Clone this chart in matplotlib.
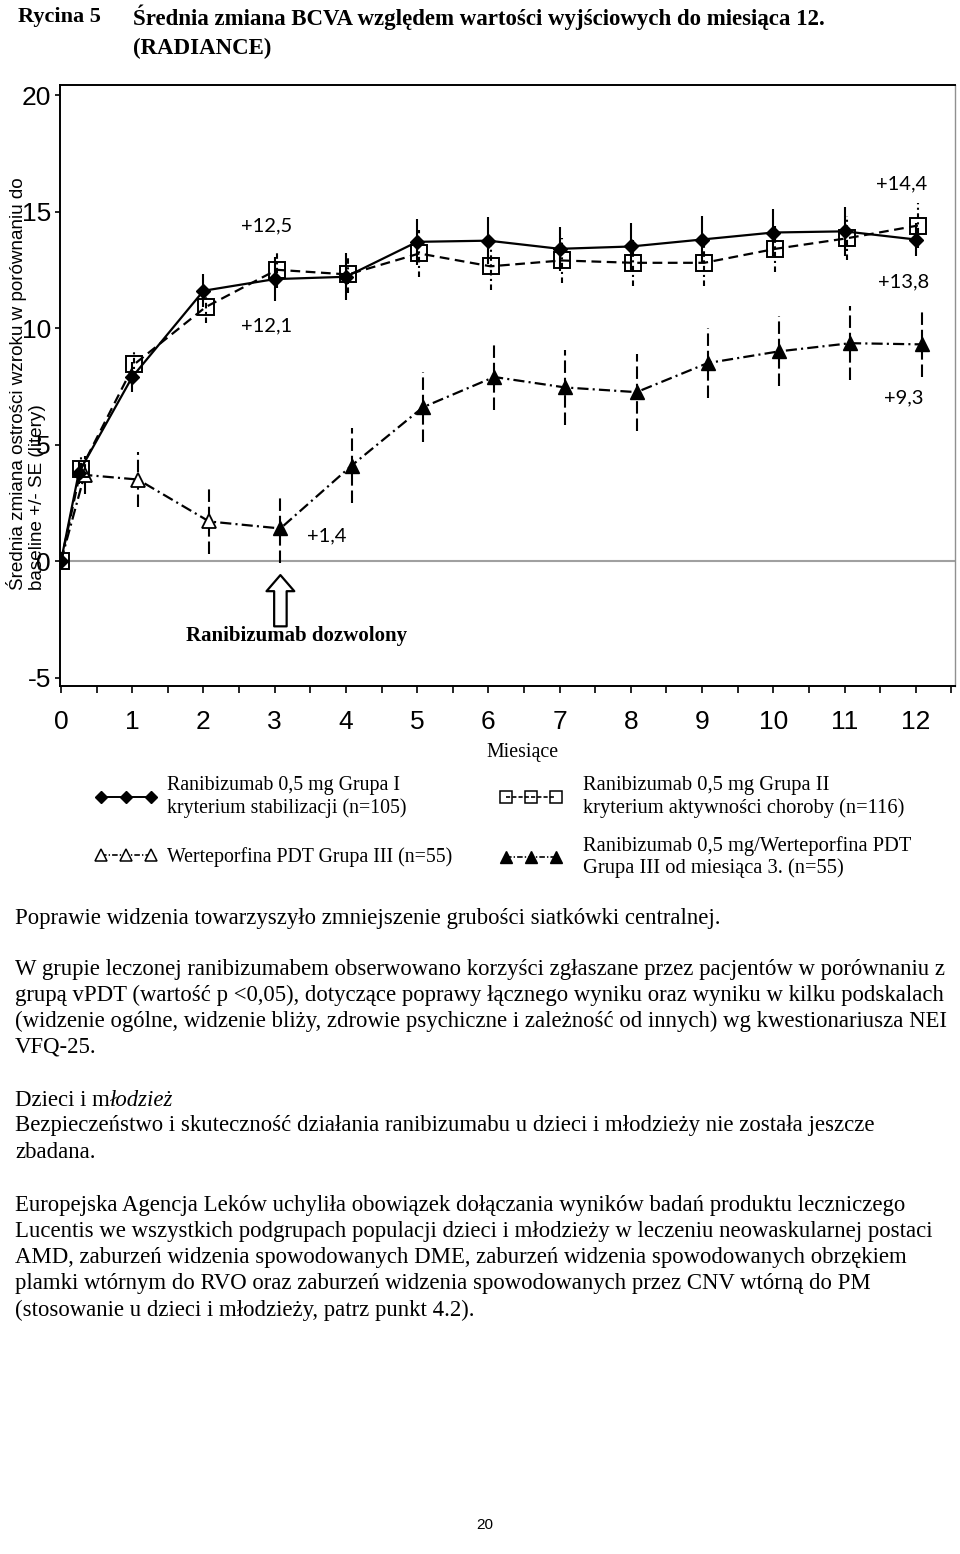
import numpy as np
import matplotlib
matplotlib.use('Agg')
import matplotlib.pyplot as plt
from matplotlib.lines import Line2D
from matplotlib.legend import Legend
from matplotlib import font_manager

months = np.array([0, 0.25, 1, 2, 3, 4, 5, 6, 7, 8, 9, 10, 11, 12])
grp1 = [0, 3.8, 7.9, 11.6, 12.1, 12.2, 13.7, 13.75, 13.4, 13.5, 13.8, 14.1, 14.15, 13.8]
grp1_se = [0, 0.5, 0.65, 0.7, 0.95, 1.0, 1.0, 1.0, 0.95, 1.0, 1.0, 1.0, 1.05, 0.7]
grp2 = [0, 3.95, 8.45, 10.9, 12.5, 12.3, 13.2, 12.65, 12.9, 12.8, 12.8, 13.4, 13.85, 14.4]
grp2_se = [0, 0.6, 0.6, 0.7, 0.8, 0.8, 1.0, 1.0, 0.95, 1.0, 1.0, 1.0, 0.95, 0.95]
grp3 = [0, 3.7, 3.5, 1.7, 1.4, 4.1, 6.6, 7.9, 7.45, 7.25, 8.5, 9.0, 9.35, 9.3]
grp3_se = [0, 0.8, 1.2, 1.4, 1.5, 1.6, 1.5, 1.4, 1.6, 1.65, 1.5, 1.5, 1.6, 1.4]

x_ticks = list(range(13))
y_ticks = [-5, 0, 5, 10, 15, 20]

# etykiety wartosci: (tekst, miesiac, y)
value_labels = [('+12,5', 2.89, 14.4), ('+12,1', 2.89, 10.1), ('+1,4', 3.73, 1.1),
                ('+14,4', 11.8, 16.2), ('+13,8', 11.83, 12.0), ('+9,3', 11.83, 7.0)]

legend_labels = ['Ranibizumab 0,5 mg Grupa I\nkryterium stabilizacji (n=105)',
                 'Ranibizumab 0,5 mg Grupa II\nkryterium aktywności choroby (n=116)',
                 'Werteporfina PDT Grupa III (n=55)',
                 'Ranibizumab 0,5 mg/Werteporfina PDT\nGrupa III od miesiąca 3. (n=55)']

body_lines = [
    (918, 'Poprawie widzenia towarzyszyło zmniejszenie grubości siatkówki centralnej.'),
    (969, 'W grupie leczonej ranibizumabem obserwowano korzyści zgłaszane przez pacjentów w porównaniu z'),
    (995, 'grupą vPDT (wartość p <0,05), dotyczące poprawy łącznego wyniku oraz wyniku w kilku podskalach'),
    (1021, '(widzenie ogólne, widzenie bliży, zdrowie psychiczne i zależność od innych) wg kwestionariusza NEI'),
    (1047, 'VFQ-25.'),
    (1126, 'Bezpieczeństwo i skuteczność działania ranibizumabu u dzieci i młodzieży nie została jeszcze'),
    (1152, 'zbadana.'),
    (1206, 'Europejska Agencja Leków uchyliła obowiązek dołączania wyników badań produktu leczniczego'),
    (1232, 'Lucentis we wszystkich podgrupach populacji dzieci i młodzieży w leczeniu neowaskularnej postaci'),
    (1258, 'AMD, zaburzeń widzenia spowodowanych DME, zaburzeń widzenia spowodowanych obrzękiem'),
    (1284, 'plamki wtórnym do RVO oraz zaburzeń widzenia spowodowanych przez CNV wtórną do PM'),
    (1310, '(stosowanie u dzieci i młodzieży, patrz punkt 4.2).'),
]

plt.rcParams['lines.scale_dashes'] = False
plt.rcParams['axes.unicode_minus'] = False
installed = {f.name for f in font_manager.fontManager.ttflist}
narrow = 'Liberation Sans Narrow' if 'Liberation Sans Narrow' in installed else 'Liberation Sans'
serif = 'Liberation Serif'

W, H = 960, 1554
fig = plt.figure(figsize=(W / 100, H / 100), dpi=100)


def fy(py):
    return 1 - py / H


ax = fig.add_axes([60 / W, fy(686), 895 / W, (686 - 85) / H])
ax.set_xlim(-0.014, 12.55)
ax.set_ylim(-5.36, 20.43)

off2 = np.where(months > 0, 0.03, 0)
off3 = np.where(months > 0, 0.08, 0)
x1, x2, x3 = months, months + off2, months + off3

ax.axhline(0, color='#a0a0a0', lw=1.5, zorder=1)


def err(x, y, se, ls):
    eb = ax.errorbar(x, y, yerr=se, fmt='none', ecolor='black', elinewidth=1.5, capsize=0, zorder=2)
    eb[2][0].set_linestyle(ls)


err(x3, grp3, grp3_se, (0, (9, 3.5)))
err(x2, grp2, grp2_se, (0, (4, 2.5, 1.5, 2.5)))
err(x1, grp1, grp1_se, '-')

# Grupa III
ax.plot(x3, grp3, color='k', lw=1.6, ls=(0, (8, 3, 1.5, 3)), zorder=3)
ax.plot(x3[1:4], grp3[1:4], ls='none', marker='^', ms=10, mfc='white', mec='k', mew=1.3, zorder=4)
ax.plot(x3[4:], grp3[4:], ls='none', marker='^', ms=10, mfc='k', mec='k', zorder=4)
# Grupa II
ax.plot(x2, grp2, color='k', lw=1.6, ls=(0, (7, 4)), marker='s', ms=11, mfc='none', mec='k', mew=1.4, zorder=5)
# Grupa I
ax.plot(x1, grp1, color='k', lw=1.6, ls='-', marker='D', ms=7.5, mfc='k', mec='k', zorder=6)

for txt, xx, yy in value_labels:
    ax.text(xx, yy, txt, fontsize=14.5, family='Lato', ha='center', va='center')

# strzalka "Ranibizumab dozwolony"
ax.annotate('', xy=(3.08, -0.6), xytext=(3.08, -2.8),
            arrowprops=dict(arrowstyle='simple,head_width=1.0,head_length=0.58,tail_width=0.45',
                            mutation_scale=20, fc='white', ec='black', lw=1.6, shrinkA=0, shrinkB=0))
ax.text(3.3, -3.22, 'Ranibizumab dozwolony', family=serif, weight='bold', fontsize=15,
        ha='center', va='center')

for s in ['left', 'bottom', 'top']:
    ax.spines[s].set_linewidth(1.4)
ax.spines['right'].set_color('#909090')
ax.spines['right'].set_linewidth(1.0)

ax.set_xticks(x_ticks)
ax.set_xticks(np.arange(0.5, 13, 1), minor=True)
ax.set_yticks(y_ticks)
ax.tick_params(axis='x', which='both', direction='out', length=5, width=1.2, pad=12,
               labelsize=19)
ax.tick_params(axis='y', direction='out', length=3.5, width=1.2, pad=3, labelsize=19)
for lab in ax.get_xticklabels() + ax.get_yticklabels():
    lab.set_family(narrow)

fig.text(26 / W, fy(590), 'Średnia zmiana ostrości wzroku w porównaniu do\nbaseline +/- SE (litery)',
         rotation=90, ha='center', va='bottom', multialignment='left', fontsize=13.6,
         family='Liberation Sans', linespacing=1.1)

fig.text(522 / W, fy(752), 'Miesiące', family=serif, fontsize=14.3, ha='center', va='center')

# legenda
h1 = Line2D([], [], color='k', lw=1.4, marker='D', ms=6, mfc='k')
h2 = Line2D([], [], color='k', lw=1.2, ls=(0, (3, 1.5)), marker='s', ms=8, mfc='none', mew=1.1)
h3 = Line2D([], [], color='k', lw=1.2, ls=(0, (4, 1.5, 1, 1.5)), marker='^', ms=8, mfc='white', mew=1.1)
h4 = Line2D([], [], color='k', lw=1.2, ls=(0, (4, 1.5, 1, 1.5)), marker='^', ms=8, mfc='k')
legend_pos = [(h1, 95, 797, 0.55, 14.3, 3.1), (h2, 500, 797, 1.05, 14.8, 3.0),
              (h3, 95, 857, 0.55, 14.3, 3.1), (h4, 500, 857, 1.05, 14.8, 3.0)]
for (h, px, py, pad, size, hl), lab in zip(legend_pos, [legend_labels[0], legend_labels[1],
                                                       legend_labels[2], legend_labels[3]]):
    leg = Legend(ax, [h], [lab], loc='center left', bbox_to_anchor=(px / W, fy(py)),
                 bbox_transform=fig.transFigure, frameon=False, numpoints=3,
                 handlelength=hl, handletextpad=pad, borderpad=0, borderaxespad=0,
                 prop={'family': serif, 'size': size})
    ax.add_artist(leg)

# tytul
fig.text(18 / W, fy(17), 'Rycina 5', family=serif, weight='bold', fontsize=16, va='center')
fig.text(133 / W, fy(17), 'Średnia zmiana BCVA względem wartości wyjściowych do miesiąca 12.',
         family=serif, weight='bold', fontsize=16.5, va='center')
fig.text(133 / W, fy(48), '(RADIANCE)', family=serif, weight='bold', fontsize=16.5, va='center')

# tekst ponizej ryciny
body_size = 16.4
for py, line in body_lines:
    fig.text(15 / W, fy(py), line, family=serif, fontsize=body_size, va='center')
t = fig.text(15 / W, fy(1100), 'Dzieci i m', family=serif, fontsize=body_size, va='center')
fig.canvas.draw()
bb = t.get_window_extent()
fig.text((bb.x1) / W, fy(1100), 'łodzież', family=serif, fontsize=body_size, style='italic', va='center')

fig.text(485 / W, fy(1525), '20', family='Liberation Sans', fontsize=11, ha='center', va='center')

fig.savefig('out.png', dpi=100)
